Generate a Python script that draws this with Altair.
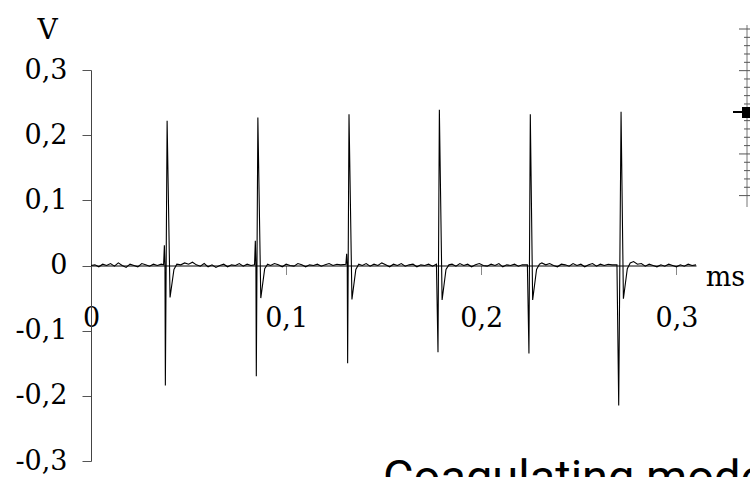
import altair as alt
import pandas as pd

# ---- data (time in ms, voltage in V) ----
t_ms = [
    0.000, 0.002, 0.004, 0.006, 0.008, 0.010, 0.012, 0.014, 0.016, 0.018,
    0.020, 0.022, 0.024, 0.026, 0.028, 0.030, 0.032, 0.034, 0.036,
    0.0372, 0.0376, 0.0379, 0.0381, 0.0390, 0.0405, 0.0425, 0.0440,
    0.046, 0.048, 0.050, 0.052, 0.054, 0.056, 0.058, 0.060, 0.062, 0.064,
    0.066, 0.068, 0.070, 0.072, 0.074, 0.076, 0.078, 0.080, 0.082,
    0.0838, 0.0842, 0.0845, 0.0847, 0.0855, 0.0870, 0.0890, 0.0905,
    0.092, 0.094, 0.096, 0.098, 0.100, 0.102, 0.104, 0.106, 0.108, 0.110,
    0.112, 0.114, 0.116, 0.118, 0.120, 0.122, 0.124, 0.126, 0.128,
    0.1306, 0.1310, 0.1313, 0.1315, 0.1322, 0.1337, 0.1357, 0.1372,
    0.139, 0.141, 0.143, 0.145, 0.147, 0.149, 0.151, 0.153, 0.155, 0.157,
    0.159, 0.161, 0.163, 0.165, 0.167, 0.169, 0.171, 0.173, 0.175,
    0.1770, 0.1778, 0.1785, 0.1799, 0.1819, 0.1834,
    0.185, 0.187, 0.189, 0.191, 0.193, 0.195, 0.197, 0.199, 0.201, 0.203,
    0.205, 0.207, 0.209, 0.211, 0.213, 0.215, 0.217, 0.219, 0.221,
    0.2236, 0.2244, 0.2251, 0.2263, 0.2283, 0.2298,
    0.231, 0.233, 0.235, 0.237, 0.239, 0.241, 0.243, 0.245, 0.247, 0.249,
    0.251, 0.253, 0.255, 0.257, 0.259, 0.261, 0.263, 0.265, 0.267,
    0.2695, 0.2704, 0.2716, 0.2728, 0.2748, 0.2763,
    0.278, 0.280, 0.282, 0.284, 0.286, 0.288, 0.290, 0.292, 0.294, 0.296,
    0.298, 0.300, 0.302, 0.304, 0.306, 0.308, 0.310,
]
volts = [
    0.000, 0.001, -0.002, 0.002, 0.000, 0.003, -0.001, 0.004, 0.000, -0.003,
    0.002, 0.000, -0.002, 0.003, 0.001, -0.001, 0.002, 0.000, 0.002,
    0.001, 0.031, 0.000, -0.184, 0.222, -0.049, -0.006, 0.002,
    0.001, 0.004, 0.002, 0.005, 0.001, -0.001, 0.003, -0.002, 0.001, -0.003,
    0.000, 0.002, -0.002, 0.001, 0.000, 0.003, -0.001, 0.002, 0.000,
    0.001, 0.038, 0.000, -0.170, 0.227, -0.050, -0.005, 0.002,
    0.000, 0.003, 0.001, -0.002, 0.002, 0.000, -0.001, 0.003, 0.001, -0.002,
    0.001, 0.000, 0.002, -0.001, 0.001, 0.003, 0.000, 0.002, 0.001,
    0.002, 0.018, 0.000, -0.150, 0.232, -0.052, -0.006, 0.002,
    0.000, 0.003, -0.001, 0.002, 0.000, 0.004, 0.001, -0.002, 0.002, 0.000,
    0.003, -0.001, 0.001, 0.002, -0.002, 0.001, 0.000, 0.002, -0.001,
    0.002, -0.133, 0.239, -0.053, -0.006, 0.001,
    0.002, -0.001, 0.003, 0.000, 0.002, -0.002, 0.001, 0.003, 0.000, -0.001,
    0.002, 0.000, 0.003, -0.002, 0.001, 0.000, 0.002, -0.001, 0.001,
    0.001, -0.135, 0.232, -0.053, -0.006, 0.002,
    0.004, 0.001, 0.003, 0.000, -0.002, 0.002, 0.001, -0.001, 0.003, 0.000,
    0.002, -0.002, 0.001, 0.003, -0.001, 0.002, 0.000, 0.002, 0.001,
    0.001, -0.215, 0.236, -0.051, -0.005, 0.004,
    0.006, 0.002, 0.003, -0.001, 0.002, 0.000, -0.002, 0.001, -0.001, 0.002,
    0.000, -0.002, 0.001, -0.001, 0.002, 0.000, 0.001,
]
x_ticks = [0, 0.1, 0.2, 0.3]
y_ticks = [-0.3, -0.2, -0.1, 0, 0.1, 0.2, 0.3]
x_unit = "ms"
y_unit = "V"
caption = "Coagulating mode"

df = pd.DataFrame({"t": t_ms, "v": volts})

W, H = 605, 391
SERIF = "DejaVu Serif"
label_expr = "(datum.value < 0 ? '-' : '') + replace(format(abs(datum.value), '.1~f'), '.', ',')"

trace = alt.Chart(df).mark_line(color="black", strokeWidth=1.1).encode(
    x=alt.X(
        "t:Q",
        scale=alt.Scale(domain=[0, 0.31], nice=False, zero=False),
        axis=alt.Axis(
            values=x_ticks, labelExpr=label_expr, offset=-195.5,
            grid=False, domainColor="black", domainWidth=1,
            ticks=True, tickSize=9, tickColor="#888888",
            labelFont=SERIF, labelFontSize=27, labelFontWeight="normal", labelColor="black",
            labelBaseline="alphabetic", labelPadding=51.5,
            labelFlush=False, labelOverlap=False,
            title=x_unit, titleFont=SERIF, titleFontSize=27, titleFontWeight="normal",
            titleColor="black", titleAngle=0, titleX=634, titleY=19.5,
            titleAlign="center", titleBaseline="alphabetic",
        ),
    ),
    y=alt.Y(
        "v:Q",
        scale=alt.Scale(domain=[-0.3, 0.3], nice=False),
        axis=alt.Axis(
            values=y_ticks, labelExpr=label_expr,
            grid=False, domainColor="#444444", domainWidth=1,
            tickSize=9, tickColor="#555555",
            labelFont=SERIF, labelFontSize=27, labelFontWeight="normal", labelColor="black",
            labelPadding=15, labelOverlap=False, labelFlush=False,
            title=y_unit, titleFont=SERIF, titleFontSize=28, titleFontWeight="normal",
            titleColor="black", titleAngle=0, titleX=-44, titleY=-32,
            titleAlign="center", titleBaseline="alphabetic",
        ),
    ),
)

one = pd.DataFrame({"k": [0]})
decor = []
# slider-like ruler widget at the top right
decor.append(alt.Chart(one).mark_rule(color="#777777", strokeWidth=1).encode(
    x=alt.value(656), y=alt.value(-45), y2=alt.value(137)))
for k in range(21):
    yy = -41 + k * 8.33
    x0 = 648 if k % 5 == 0 else 653
    decor.append(alt.Chart(one).mark_rule(color="#555555", strokeWidth=1).encode(
        x=alt.value(x0), x2=alt.value(659), y=alt.value(yy)))
decor.append(alt.Chart(one).mark_rule(color="black", strokeWidth=2).encode(
    x=alt.value(642), x2=alt.value(652), y=alt.value(42)))
decor.append(alt.Chart(one).mark_rect(color="black").encode(
    x=alt.value(651), x2=alt.value(659), y=alt.value(37), y2=alt.value(48)))
# caption (cut off at the bottom edge, as in the reference)
decor.append(alt.Chart(one).mark_text(
    text=caption, font="Roboto", fontSize=47, align="left", baseline="alphabetic", color="black"
).encode(x=alt.value(292), y=alt.value(423)))

chart = alt.layer(trace, *decor).properties(
    width=W, height=H,
    background="white",
    autosize=alt.AutoSizeParams(type="none"),
    padding={"left": 91, "top": 70, "right": 54, "bottom": 16},
).configure_view(stroke=None, strokeWidth=0)

chart.save("out.html", embed_options={"renderer": "svg", "actions": False})
